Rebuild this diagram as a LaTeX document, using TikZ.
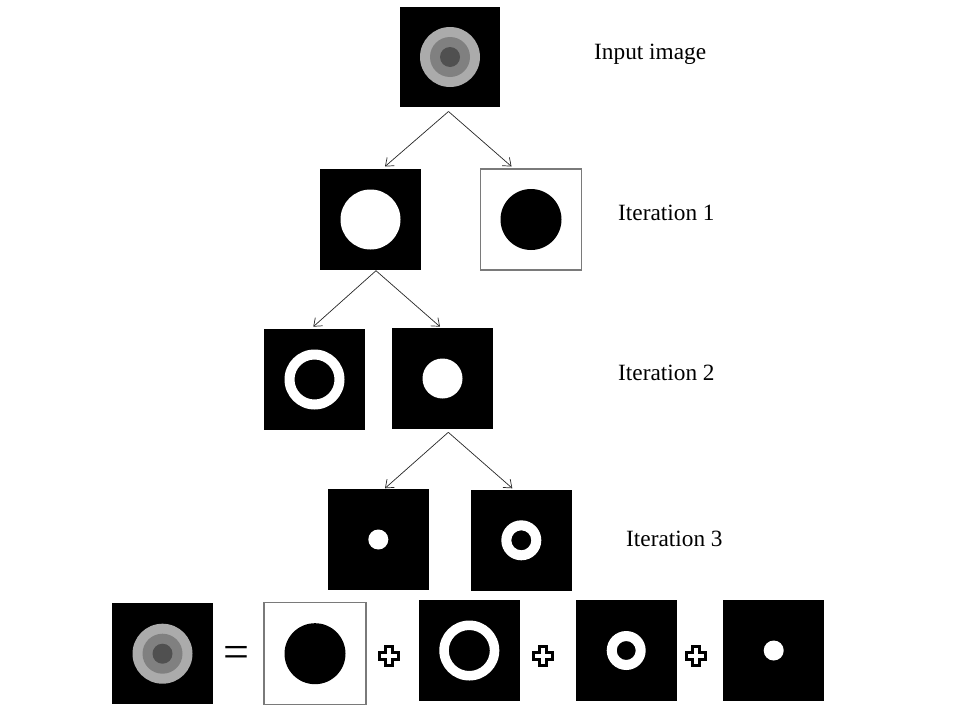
\documentclass[tikz,border=0pt]{standalone}
\usepackage{fontspec}
\setmainfont{Liberation Serif}
\usetikzlibrary{arrows.meta,calc}
\definecolor{lgray}{HTML}{ABABAB}
\definecolor{mgray}{HTML}{808080}
\definecolor{dgray}{HTML}{505050}
\definecolor{bordergray}{HTML}{7A7A7A}
\begin{document}
\begin{tikzpicture}[x=1pt,y=-1pt,
  blackimg/.style={rectangle,fill=black,minimum size=101pt,inner sep=0pt},
  whiteimg/.style={rectangle,fill=white,draw=bordergray,line width=1.2pt,minimum size=101pt,inner sep=0pt},
  lbl/.style={anchor=base west,inner sep=0pt,font=\fontsize{23.3}{28}\selectfont},
  arr/.style={-{Straight Barb[length=7pt,width=11pt]},line width=0.7pt,draw=black!85},
  pluss/.style={fill=white,draw=black,line width=3pt,line join=miter}]
\path[use as bounding box] (0,0) rectangle (960,720);

% tree images
\node[blackimg,minimum size=100pt] (top) at (450,57) {};
\node[blackimg] (ia) at (370.5,219.5) {};
\node[whiteimg] (ib) at (531,219.5) {};
\node[blackimg] (iia) at (314.5,379.5) {};
\node[blackimg] (iib) at (442.5,378.5) {};
\node[blackimg] (iiia) at (378.3,539.5) {};
\node[blackimg] (iiib) at (521.3,540.3) {};

% bottom row
\node[blackimg] (ba) at (162.5,653.7) {};
\node[whiteimg,minimum size=102pt] (bb) at (315,653.7) {};
\node[blackimg] (bc) at (469.3,650.5) {};
\node[blackimg] (bd) at (626.2,650.5) {};
\node[blackimg] (be) at (773.7,650.5) {};

% contents
\foreach \n in {top,ba}{
  \fill[lgray] (\n.center) circle (30pt);
  \fill[mgray] (\n.center) circle (20pt);
  \fill[dgray] (\n.center) circle (10pt);
}
\fill[white] (ia.center) circle (30pt);
\fill[black] (ib.center) circle (30.5pt);
\fill[black] (bb.center) circle (30.5pt);
\fill[white,even odd rule] (iia.center) circle (30pt) (iia.center) circle (20pt);
\fill[white,even odd rule] (bc.center) circle (30pt) (bc.center) circle (20.5pt);
\fill[white] (iib.center) circle (20pt);
\fill[white] (iiia.center) circle (10pt);
\fill[white] (be.center) circle (10pt);
\fill[white,even odd rule] (iiib.center) circle (20pt) (iiib.center) circle (10pt);
\fill[white,even odd rule] (bd.center) circle (19.5pt) (bd.center) circle (9.5pt);

% labels
\node[lbl] (l0) at (594,59.3) {Input image};
\node[lbl] (l1) at (618,220) {Iteration 1};
\node[lbl] (l2) at (618,380) {Iteration 2};
\node[lbl] (l3) at (626,546.7) {Iteration 3};

% arrows
\coordinate (a1) at (448.5,111.5);
\coordinate (t1l) at (385,166.5);
\coordinate (t1r) at (511.5,166.5);
\coordinate (a2) at (376,270.7);
\coordinate (t2l) at (313.3,326.7);
\coordinate (t2r) at (440,326.7);
\coordinate (a3) at (448.3,432.3);
\coordinate (t3l) at (385,488.3);
\coordinate (t3r) at (512.3,488.3);
\draw[arr] (a1) -- (t1l);
\draw[arr] (a1) -- (t1r);
\draw[arr] (a2) -- (t2l);
\draw[arr] (a2) -- (t2r);
\draw[arr] (a3) -- (t3l);
\draw[arr] (a3) -- (t3r);

% equals and pluses
\node[inner sep=0pt,font=\fontsize{46}{46}\selectfont] (eq) at (236,657) {=};
\coordinate (p1) at (388.5,655.5);
\coordinate (p2) at (542.5,655.5);
\coordinate (p3) at (696,655.5);
\foreach \p in {p1,p2,p3}{
  \draw[pluss,shift={(\p)}] (-3.5,-9.5) -- (3.5,-9.5) -- (3.5,-3.5) -- (9.5,-3.5) -- (9.5,3.5) -- (3.5,3.5) -- (3.5,9.5) -- (-3.5,9.5) -- (-3.5,3.5) -- (-9.5,3.5) -- (-9.5,-3.5) -- (-3.5,-3.5) -- cycle;
}
\end{tikzpicture}
\end{document}
